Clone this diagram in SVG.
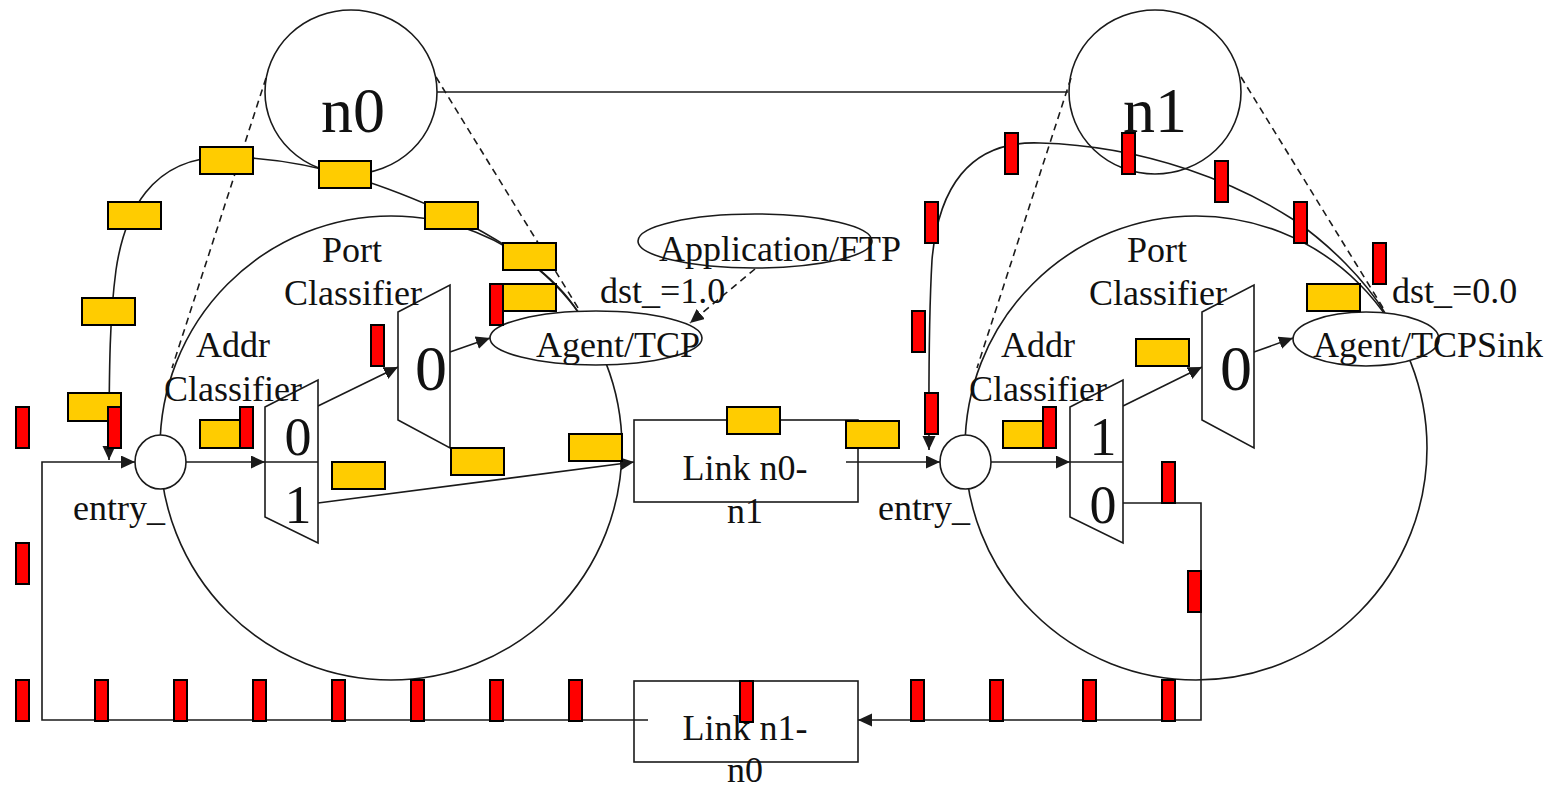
<svg xmlns="http://www.w3.org/2000/svg" width="1562" height="789" viewBox="0 0 1562 789">
  <style>
    .ln { fill: none; stroke: #1a1a1a; stroke-width: 1.6; }
    .dash { fill: none; stroke: #1a1a1a; stroke-width: 1.6; stroke-dasharray: 7 5; }
    .shape { fill: #ffffff; stroke: #1a1a1a; stroke-width: 1.6; }
    .hollow { fill: none; stroke: #1a1a1a; stroke-width: 1.6; }
    .txt { font-family: "Liberation Serif", "Times New Roman", serif; font-size: 36px; fill: #111111; }
    .big { font-size: 64px; }
    .mid { font-size: 54px; }
    .c { text-anchor: middle; }
    .y { fill: #ffcc00; stroke: #000000; stroke-width: 2; }
    .r { fill: #ff0000; stroke: #000000; stroke-width: 2; }
  </style>
  <defs>
    <marker id="arrow" markerUnits="userSpaceOnUse" markerWidth="15" markerHeight="14" refX="14" refY="6.5" orient="auto">
      <path d="M0,0 L14,6.5 L0,13 z" fill="#1a1a1a"/>
    </marker>
  </defs>

  <rect width="1562" height="789" fill="#ffffff"/>

  <!-- node interiors (large ellipses) -->
  <g id="node-n0-body">
    <ellipse class="hollow" cx="391" cy="448" rx="231" ry="232"/>
  </g>
  <g id="node-n1-body">
    <ellipse class="hollow" cx="1196" cy="448" rx="231" ry="232"/>
  </g>

  <!-- link boxes -->
  <g id="link-n0-n1">
    <rect class="shape" x="634" y="420" width="224" height="82"/>
  </g>
  <g id="link-n1-n0">
    <rect class="shape" x="634" y="681" width="224" height="81"/>
  </g>

  <!-- connectors -->
  <g id="connectors">
    <!-- n0 to n1 topology link -->
    <line class="ln" x1="437" y1="92" x2="1068" y2="92"/>
    <!-- zoom-in guides -->
    <line class="dash" x1="266" y1="78" x2="172" y2="368"/>
    <line class="dash" x1="436" y1="77" x2="580" y2="311"/>
    <line class="dash" x1="1071" y1="78" x2="977" y2="368"/>
    <line class="dash" x1="1241" y1="77" x2="1385" y2="311"/>
    <!-- return path into n0 -->
    <path class="ln" d="M648,720 H42 V462 H135" marker-end="url(#arrow)"/>
    <line class="ln" x1="186" y1="462" x2="265" y2="462" marker-end="url(#arrow)"/>
    <line class="ln" x1="318" y1="406" x2="398" y2="367" marker-end="url(#arrow)"/>
    <line class="ln" x1="450" y1="352" x2="490" y2="338" marker-end="url(#arrow)"/>
    <line class="ln" x1="318" y1="503" x2="634" y2="462" marker-end="url(#arrow)"/>
    <line class="ln" x1="846" y1="462" x2="940" y2="462" marker-end="url(#arrow)"/>
    <line class="ln" x1="991" y1="462" x2="1070" y2="462" marker-end="url(#arrow)"/>
    <line class="ln" x1="1123" y1="406" x2="1202" y2="367" marker-end="url(#arrow)"/>
    <line class="ln" x1="1254" y1="352" x2="1293" y2="338" marker-end="url(#arrow)"/>
    <path class="ln" d="M1123,503 H1201 V720 H858" marker-end="url(#arrow)"/>
    <!-- application attachment -->
    <line class="dash" x1="755" y1="269" x2="690" y2="323" marker-end="url(#arrow)"/>
    <!-- packet paths -->
    <path class="ln" d="M578,312 C555,275 510,245 451,215 C400,192 320,158 227,157 C150,156 124,215 116,270 C110,315 109,360 109,460" marker-end="url(#arrow)"/>
    <path class="ln" d="M1385,313 C1365,280 1330,245 1294,220 C1240,185 1150,146 1040,143 C968,140 938,190 932,260 C928,330 929,400 929,450" marker-end="url(#arrow)"/>
  </g>

  <!-- topology nodes -->
  <g id="node-n0">
    <ellipse class="hollow" cx="351" cy="92" rx="86" ry="82"/>
    <text class="txt big c" x="353" y="132">n0</text>
  </g>
  <g id="node-n1">
    <ellipse class="hollow" cx="1155" cy="92" rx="86" ry="82"/>
    <text class="txt big c" x="1155" y="132">n1</text>
  </g>

  <!-- n0 internals -->
  <g id="n0-entry">
    <ellipse class="shape" cx="160.5" cy="462" rx="25.5" ry="27"/>
    <text class="txt" x="73" y="520">entry_</text>
  </g>
  <g id="n0-addr-classifier">
    <polygon class="shape" points="265,407 318,380 318,543 265,517"/>
    <line class="ln" x1="265" y1="462" x2="318" y2="462"/>
    <text class="txt mid c" x="298" y="455">0</text>
    <text class="txt mid c" x="298" y="523">1</text>
    <text class="txt c" x="233" y="357">Addr</text>
    <text class="txt c" x="233" y="401">Classifier</text>
  </g>
  <g id="n0-port-classifier">
    <polygon class="shape" points="398,312 450,285 450,448 398,420"/>
    <text class="txt big c" x="431" y="390">0</text>
    <text class="txt c" x="352" y="262">Port</text>
    <text class="txt c" x="353" y="305">Classifier</text>
  </g>
  <g id="n0-agent">
    <ellipse class="shape" cx="596" cy="338" rx="106" ry="27"/>
    <text class="txt c" x="618" y="357">Agent/TCP</text>
    <text class="txt" x="600" y="303">dst_=1.0</text>
  </g>
  <g id="n0-application">
    <ellipse class="shape" cx="755" cy="241" rx="117" ry="27"/>
    <text class="txt c" x="780" y="261">Application/FTP</text>
  </g>

  <!-- n1 internals -->
  <g id="n1-entry">
    <ellipse class="shape" cx="965.5" cy="462" rx="25.5" ry="27"/>
    <text class="txt" x="878" y="520">entry_</text>
  </g>
  <g id="n1-addr-classifier">
    <polygon class="shape" points="1070,407 1123,380 1123,543 1070,517"/>
    <line class="ln" x1="1070" y1="462" x2="1123" y2="462"/>
    <text class="txt mid c" x="1103" y="455">1</text>
    <text class="txt mid c" x="1103" y="523">0</text>
    <text class="txt c" x="1038" y="357">Addr</text>
    <text class="txt c" x="1038" y="401">Classifier</text>
  </g>
  <g id="n1-port-classifier">
    <polygon class="shape" points="1202,312 1254,285 1254,448 1202,420"/>
    <text class="txt big c" x="1236" y="390">0</text>
    <text class="txt c" x="1157" y="262">Port</text>
    <text class="txt c" x="1158" y="305">Classifier</text>
  </g>
  <g id="n1-agent">
    <ellipse class="shape" cx="1366" cy="339" rx="73" ry="27"/>
    <text class="txt" x="1313" y="357">Agent/TCPSink</text>
    <text class="txt" x="1392" y="303">dst_=0.0</text>
  </g>

  <!-- link labels -->
  <g id="link-labels">
    <text class="txt c" x="745" y="480">Link n0-</text>
    <text class="txt c" x="745" y="523">n1</text>
  </g>

  <!-- data packets (yellow) -->
  <g id="data-packets">
    <rect class="y" x="200" y="147" width="53" height="27"/>
    <rect class="y" x="319" y="161" width="52" height="27"/>
    <rect class="y" x="425" y="202" width="53" height="27"/>
    <rect class="y" x="503" y="243" width="53" height="27"/>
    <rect class="y" x="503" y="284" width="53" height="27"/>
    <rect class="y" x="108" y="202" width="53" height="27"/>
    <rect class="y" x="82" y="298" width="53" height="27"/>
    <rect class="y" x="68" y="393" width="53" height="28"/>
    <rect class="y" x="200" y="420" width="41" height="28"/>
    <rect class="y" x="332" y="462" width="53" height="27"/>
    <rect class="y" x="451" y="448" width="53" height="27"/>
    <rect class="y" x="569" y="434" width="53" height="27"/>
    <rect class="y" x="727" y="407" width="53" height="27"/>
    <rect class="y" x="846" y="421" width="53" height="27"/>
    <rect class="y" x="1003" y="421" width="41" height="27"/>
    <rect class="y" x="1136" y="339" width="53" height="27"/>
    <rect class="y" x="1307" y="284" width="53" height="27"/>
  </g>

  <!-- ack packets (red) -->
  <g id="ack-packets">
    <rect class="r" x="490" y="284" width="13" height="41"/>
    <rect class="r" x="371" y="325" width="13" height="41"/>
    <rect class="r" x="108" y="407" width="13" height="41"/>
    <rect class="r" x="240" y="407" width="13" height="41"/>
    <rect class="r" x="16" y="407" width="13" height="41"/>
    <rect class="r" x="16" y="543" width="13" height="41"/>
    <rect class="r" x="16" y="680" width="13" height="41"/>
    <rect class="r" x="95" y="680" width="13" height="41"/>
    <rect class="r" x="174" y="680" width="13" height="41"/>
    <rect class="r" x="253" y="680" width="13" height="41"/>
    <rect class="r" x="332" y="680" width="13" height="41"/>
    <rect class="r" x="411" y="680" width="13" height="41"/>
    <rect class="r" x="490" y="680" width="13" height="41"/>
    <rect class="r" x="569" y="680" width="13" height="41"/>
    <rect class="r" x="740" y="681" width="13" height="41"/>
    <rect class="r" x="911" y="680" width="13" height="41"/>
    <rect class="r" x="990" y="680" width="13" height="41"/>
    <rect class="r" x="1083" y="680" width="13" height="41"/>
    <rect class="r" x="1162" y="680" width="13" height="41"/>
    <rect class="r" x="1188" y="571" width="13" height="41"/>
    <rect class="r" x="1162" y="462" width="13" height="41"/>
    <rect class="r" x="1043" y="407" width="13" height="41"/>
    <rect class="r" x="925" y="393" width="13" height="41"/>
    <rect class="r" x="912" y="311" width="13" height="41"/>
    <rect class="r" x="925" y="202" width="13" height="41"/>
    <rect class="r" x="1005" y="133" width="13" height="41"/>
    <rect class="r" x="1122" y="133" width="13" height="41"/>
    <rect class="r" x="1215" y="161" width="13" height="41"/>
    <rect class="r" x="1294" y="202" width="13" height="41"/>
    <rect class="r" x="1373" y="243" width="13" height="41"/>
  </g>

  <!-- label drawn over the ack packet on the return link -->
  <g id="link-n1-n0-label">
    <text class="txt c" x="745" y="740">Link n1-</text>
    <text class="txt c" x="745" y="782">n0</text>
  </g>
</svg>
